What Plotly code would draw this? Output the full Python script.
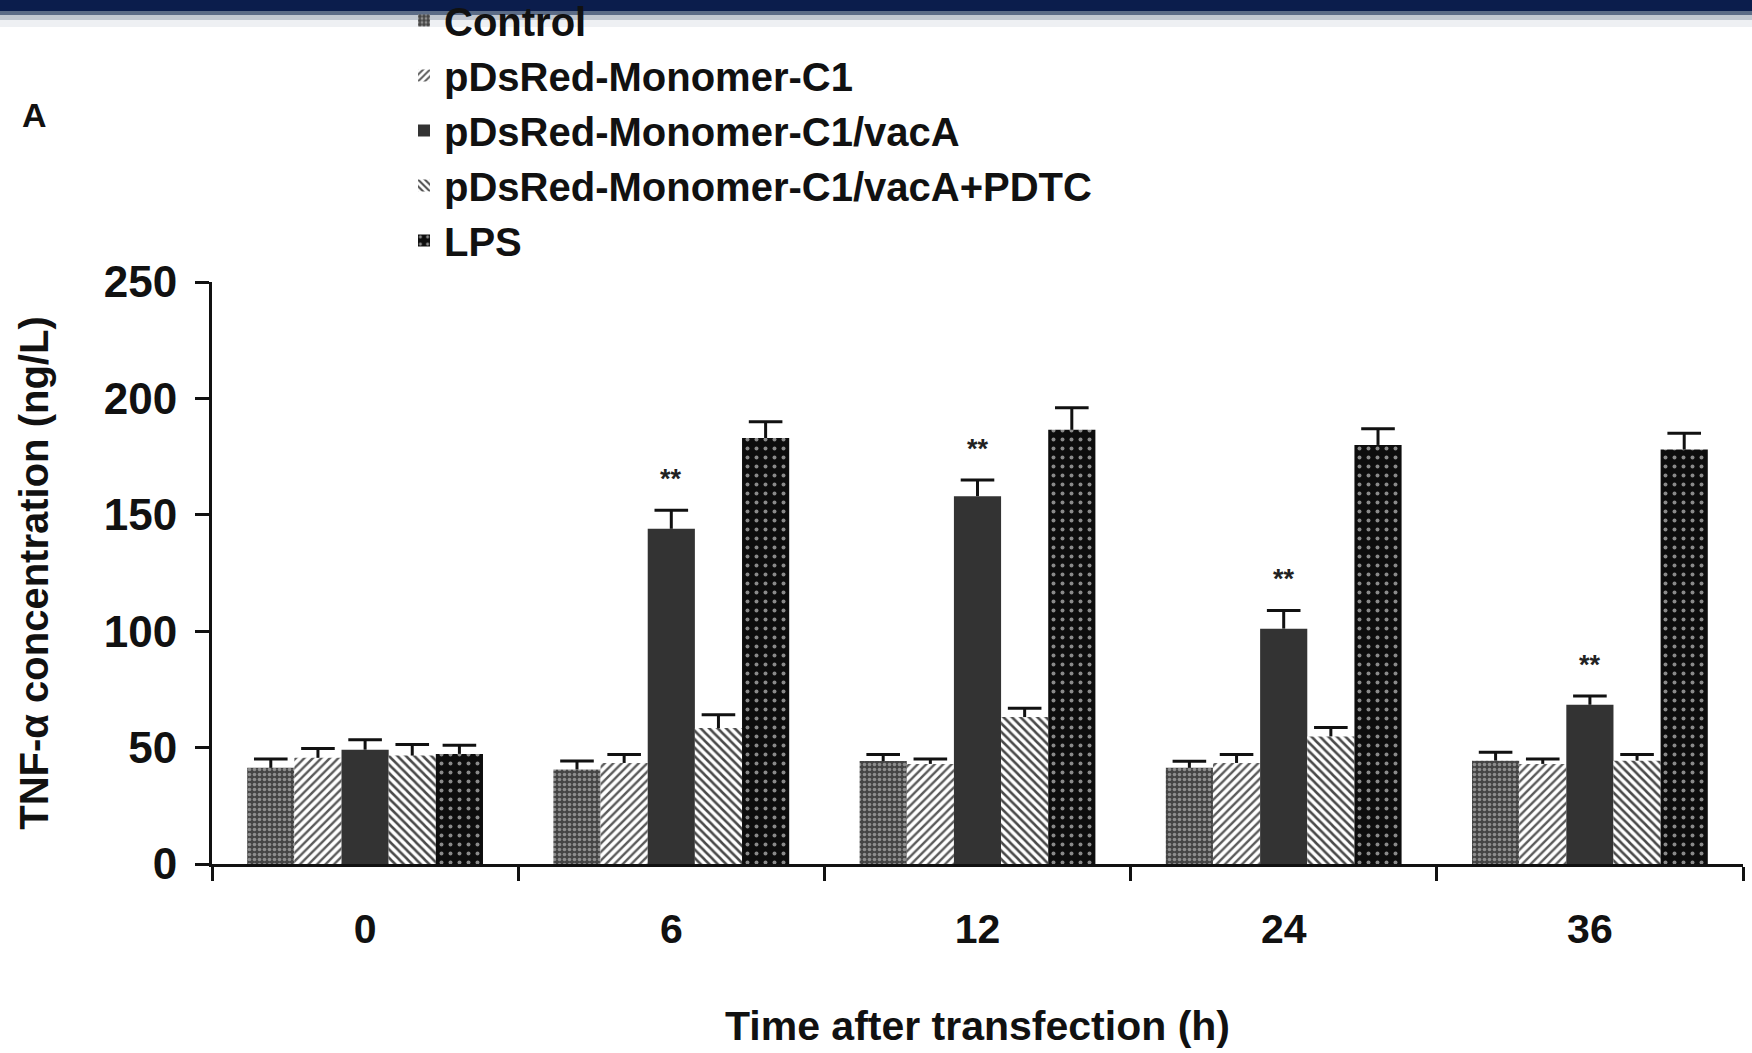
import plotly.graph_objects as go

times = ["0", "6", "12", "24", "36"]
series_names = ["Control", "pDsRed-Monomer-C1", "pDsRed-Monomer-C1/vacA",
                "pDsRed-Monomer-C1/vacA+PDTC", "LPS"]

control = [41.3, 40.6, 44.2, 41.3, 44.4]
control_err = [3.8, 3.6, 2.8, 2.8, 3.6]
pds = [45.6, 43.4, 43.0, 43.4, 43.0]
pds_err = [4.0, 3.6, 2.1, 3.6, 2.1]
vaca = [49.1, 144.0, 158.0, 101.1, 68.4]
vaca_err = [4.3, 8.0, 7.0, 7.8, 3.8]
pdtc = [46.6, 58.4, 63.1, 54.8, 44.4]
pdtc_err = [4.7, 5.7, 3.8, 3.8, 2.6]
lps = [47.3, 183.0, 186.5, 180.0, 178.0]
lps_err = [3.7, 7.0, 9.5, 7.0, 7.0]

sig_labels = ["", "**", "**", "**", "**"]

W, H = 1752, 1053
ML, MR, MT, MB = 212, 9, 282, 189
PW = W - ML - MR
PH = H - MT - MB

FONT = "Liberation Sans, Arial, Helvetica, sans-serif"
GAP = 0.23

patterns = [
    dict(shape=".", bgcolor="#444444", fgcolor="#8e8e8e", size=5, solidity=0.4, fillmode="replace"),
    dict(shape="/", bgcolor="#ffffff", fgcolor="#5a5a5a", size=6, solidity=0.4, fillmode="replace"),
    None,
    dict(shape="\\", bgcolor="#ffffff", fgcolor="#4a4a4a", size=6, solidity=0.42, fillmode="replace"),
    dict(shape=".", bgcolor="#0d0d0d", fgcolor="#8a8a8a", size=9, solidity=0.15, fillmode="replace"),
]
values = [control, pds, vaca, pdtc, lps]
errors = [control_err, pds_err, vaca_err, pdtc_err, lps_err]

fig = go.Figure()
for i, name in enumerate(series_names):
    marker = dict(color="#333333", line=dict(width=0))
    if patterns[i] is not None:
        marker["pattern"] = patterns[i]
    fig.add_trace(go.Bar(
        x=times, y=values[i], name=name, marker=marker, offsetgroup=str(i),
        error_y=dict(type="data", array=errors[i], arrayminus=[0] * len(times),
                     symmetric=False, color="#111111", thickness=3, width=0),
    ))

# caps of the error bars (upper end only)
for i, name in enumerate(series_names):
    fig.add_trace(go.Scatter(
        x=times, y=[v + e for v, e in zip(values[i], errors[i])],
        mode="markers", offsetgroup=str(i), showlegend=False, hoverinfo="skip",
        marker=dict(symbol="line-ew", size=24, color="#111111",
                    line=dict(width=3, color="#111111")),
    ))

annotations = []
for k, (v, e, s) in enumerate(zip(vaca, vaca_err, sig_labels)):
    if s:
        annotations.append(dict(x=k, y=v + e, xref="x", yref="y", text=s, showarrow=False,
                                yanchor="bottom", yshift=14,
                                font=dict(family=FONT, size=27, color="#222222", weight="bold")))
annotations.append(dict(x=(34 - ML) / PW, y=1 + (MT - 115) / PH, xref="paper", yref="paper",
                        text="A", showarrow=False, xanchor="center", yanchor="middle",
                        font=dict(family=FONT, size=34, color="#111111", weight="bold")))

shapes = []
band = [(0, 11, "#0b1d4c", 1.0), (11, 15, "#3f5272", 0.85), (15, 20, "#9aa4b3", 0.6),
        (20, 27, "#dde1e7", 0.5)]
for a, b, c, o in band:
    shapes.append(dict(type="rect", xref="paper", yref="paper",
                       x0=-ML / PW, x1=1 + MR / PW,
                       y0=1 + (MT - b) / PH, y1=1 + (MT - a) / PH,
                       fillcolor=c, opacity=o, line=dict(width=0), layer="above"))

fig.update_layout(
    width=W, height=H,
    margin=dict(l=ML, r=MR, t=MT, b=MB, autoexpand=False),
    paper_bgcolor="white", plot_bgcolor="white",
    barmode="group", bargap=GAP, bargroupgap=0,
    scattermode="group", scattergap=GAP,
    font=dict(family=FONT, color="#111111"),
    showlegend=True,
    legend=dict(x=(404 - ML) / PW, y=1 + (MT + 12) / PH, xanchor="left", yanchor="top",
                font=dict(family=FONT, size=40, color="#111111", weight="bold"),
                bgcolor="rgba(0,0,0,0)", tracegroupgap=0, itemwidth=30,
                traceorder="normal"),
    annotations=annotations,
    shapes=shapes,
    xaxis=dict(
        type="category", range=[-0.5, len(times) - 0.5],
        showline=True, linecolor="#111111", linewidth=3,
        ticks="outside", tickson="boundaries", ticklen=14, tickwidth=3, tickcolor="#111111",
        tickfont=dict(family=FONT, size=41, color="#111111", weight="bold"),
        tickangle=0, ticklabelstandoff=27,
        title=dict(text="Time after transfection (h)", standoff=61,
                   font=dict(family=FONT, size=41, color="#111111", weight="bold")),
        showgrid=False, zeroline=False, automargin=False,
    ),
    yaxis=dict(
        range=[0, 250], tickvals=[0, 50, 100, 150, 200, 250],
        showline=True, linecolor="#111111", linewidth=3,
        ticks="outside", ticklen=14, tickwidth=3, tickcolor="#111111",
        tickfont=dict(family=FONT, size=44, color="#111111", weight="bold"),
        ticklabelstandoff=9,
        title=dict(text="TNF-α concentration (ng/L)", standoff=43,
                   font=dict(family=FONT, size=40, color="#111111", weight="bold")),
        showgrid=False, zeroline=False, automargin=False,
    ),
)

fig.write_html("out.html", config={"displayModeBar": False},
               post_script="document.body.style.margin='0';")
